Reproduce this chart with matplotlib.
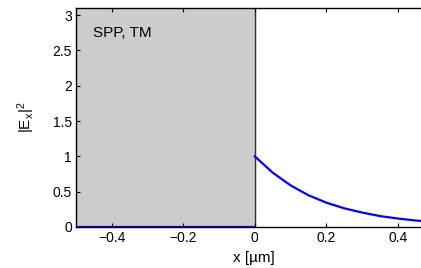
import numpy as np
import matplotlib.pyplot as plt

plt.rcParams['font.family'] = ['Liberation Sans', 'DejaVu Sans']
plt.rcParams['mathtext.fontset'] = 'custom'
plt.rcParams['mathtext.rm'] = 'Liberation Sans'
plt.rcParams['mathtext.it'] = 'Liberation Sans'

# field intensity
x_metal = [-0.5, 0.0]
y_metal = [0.0, 0.0]
x_diel = [0.0, 0.05, 0.1, 0.15, 0.2, 0.25, 0.3, 0.35, 0.4, 0.45, 0.5]
y_diel = [1.0, 0.77, 0.59, 0.45, 0.345, 0.265, 0.205, 0.155, 0.12, 0.092, 0.07]

fig = plt.figure(figsize=(4.21, 2.68), dpi=100)
ax = fig.add_axes([76 / 421, 41 / 268, 345 / 421, 219 / 268])

ax.axvspan(-0.5, 0, color='#cccccc', zorder=0)
ax.axvline(0, color='#333333', lw=1, zorder=1)
ax.plot(x_metal, y_metal, color='#0000ff', lw=1.6, zorder=3)
ax.plot(x_diel, y_diel, color='#0000ff', lw=1.6, zorder=3)

ax.set_xlim(-0.5, 0.465)
ax.set_ylim(0, 3.1)
ax.set_xticks([-0.4, -0.2, 0, 0.2, 0.4])
ax.set_xticklabels(['\u22120.4', '\u22120.2', '0', '0.2', '0.4'])
ax.set_yticks([0, 0.5, 1, 1.5, 2, 2.5, 3])
ax.set_yticklabels(['0', '0.5', '1', '1.5', '2', '2.5', '3'])
ax.tick_params(direction='in', length=3, width=0.8, labelsize=10, top=True, right=False, pad=3)
ax.spines['right'].set_visible(False)
for s in ['left', 'bottom', 'top']:
    ax.spines[s].set_linewidth(1)

ax.text(0.05, 0.886, 'SPP, TM', transform=ax.transAxes, fontsize=11, va='center')
ax.set_xlabel('x [\u00b5m]', fontsize=11)
ax.xaxis.set_label_coords(0.516, -0.11)
ax.set_ylabel('|E$_x$|$^2$', fontsize=11)
ax.yaxis.set_label_coords(-0.113, 0.5)

fig.savefig('out.png', dpi=100)
